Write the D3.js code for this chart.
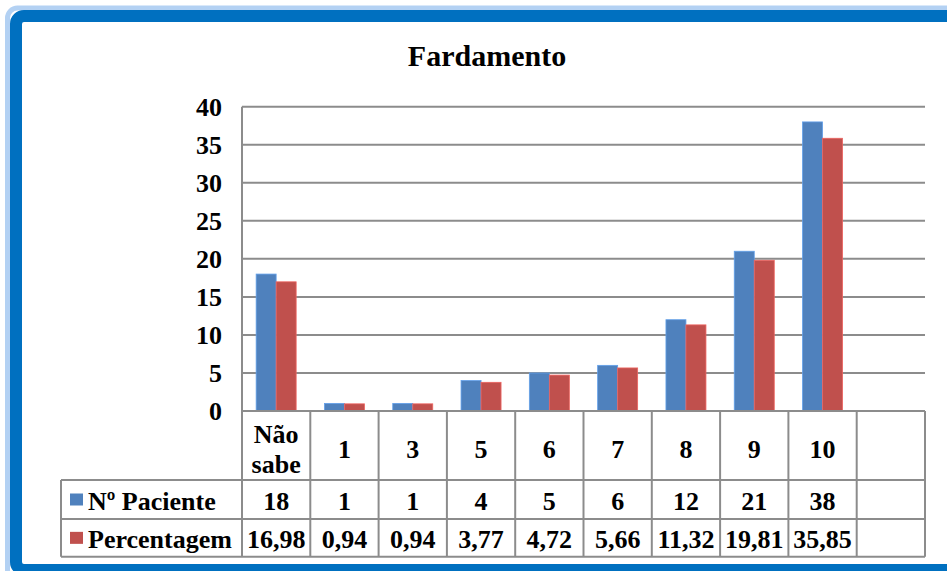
<!DOCTYPE html>
<html>
<head>
<meta charset="utf-8">
<script src="https://cdn.jsdelivr.net/npm/d3@7"></script>
<style>
  body { margin: 0; background: #fff; }
  svg { display: block; }
  svg text { font-family: 'Liberation Serif', 'Times New Roman', serif; font-weight: 700; }
</style>
</head>
<body>
<svg id="chart" width="947" height="571"></svg>
<script>
// chart data
var categories = ["Não sabe", "1", "3", "5", "6", "7", "8", "9", "10", ""];
var seriesNames = ["Nº Paciente", "Percentagem"];
var pacientes = [18, 1, 1, 4, 5, 6, 12, 21, 38, null];
var percentagem = [16.98, 0.94, 0.94, 3.77, 4.72, 5.66, 11.32, 19.81, 35.85, null];
var pctLabels = ["16,98", "0,94", "0,94", "3,77", "4,72", "5,66", "11,32", "19,81", "35,85", ""];
var yTicks = [0, 5, 10, 15, 20, 25, 30, 35, 40];
var colors = ["#4f81bd", "#c0504d"];

var svg = d3.select("#chart");

// blue frame (right side runs off the picture)
svg.append("rect")
    .attr("x", 7.5).attr("y", 8).attr("width", 1100).attr("height", 580)
    .attr("rx", 10)
    .attr("fill", "none").attr("stroke", "#b3d1f3").attr("stroke-width", 5);
svg.append("rect")
    .attr("x", 16).attr("y", 16).attr("width", 1100).attr("height", 554)
    .attr("rx", 8)
    .attr("fill", "#fff").attr("stroke", "#0070c0").attr("stroke-width", 12);

var plotLeft = 242, plotRight = 925, plotTop = 106.7, base = 411;
var rowCat = [411, 480], rowA = [480, 519], rowB = [519, 556.7];
var tableLeft = 61;
var grid = "#8c8c8c";
var fs = 26;

var x = d3.scaleBand().domain(categories).range([plotLeft, plotRight]);
var y = d3.scaleLinear().domain([0, 40]).range([base, plotTop]);
var bw = x.bandwidth();
var x1 = d3.scaleBand().domain(seriesNames).range([bw / 2 - 20, bw / 2 + 20]);

// title
svg.append("text")
    .attr("x", 487).attr("y", 66)
    .attr("text-anchor", "middle")
    .attr("font-size", 30)
    .text("Fardamento");

// gridlines
svg.append("g").selectAll("line")
    .data(yTicks.filter(function(d) { return d > 0; }))
    .enter().append("line")
    .attr("x1", plotLeft).attr("x2", plotRight)
    .attr("y1", function(d) { return y(d); })
    .attr("y2", function(d) { return y(d); })
    .attr("stroke", grid).attr("stroke-width", 2);

// y labels
svg.append("g").selectAll("text")
    .data(yTicks)
    .enter().append("text")
    .attr("x", 222)
    .attr("y", function(d) { return y(d) + 9; })
    .attr("text-anchor", "end")
    .attr("font-size", fs)
    .text(function(d) { return d; });

// bars
var series = [pacientes, percentagem];
series.forEach(function(vals, s) {
    svg.append("g").selectAll("rect")
        .data(categories.map(function(c, i) { return {cat: c, v: vals[i]}; })
            .filter(function(d) { return d.v != null; }))
        .enter().append("rect")
        .attr("x", function(d) { return x(d.cat) + x1(seriesNames[s]); })
        .attr("width", x1.bandwidth())
        .attr("y", function(d) { return y(d.v); })
        .attr("height", function(d) { return base - y(d.v); })
        .attr("fill", colors[s])
        .attr("stroke", d3.color(colors[s]).brighter(0.6))
        .attr("stroke-width", 0.8);
});

// data table lines
var tg = svg.append("g").attr("stroke", grid).attr("stroke-width", 2);
tg.append("line").attr("x1", plotLeft).attr("x2", plotRight).attr("y1", base).attr("y2", base);
[rowA[0], rowB[0], rowB[1]].forEach(function(yy) {
    tg.append("line").attr("x1", tableLeft).attr("x2", plotRight).attr("y1", yy).attr("y2", yy);
});
tg.append("line").attr("x1", tableLeft).attr("x2", tableLeft).attr("y1", rowA[0]).attr("y2", rowB[1]);
tg.append("line").attr("x1", plotLeft).attr("x2", plotLeft).attr("y1", plotTop).attr("y2", rowB[1]);
categories.forEach(function(c) {
    var xx = x(c) + bw;
    tg.append("line").attr("x1", xx).attr("x2", xx).attr("y1", base).attr("y2", rowB[1]);
});

// category labels
var catG = svg.append("g").attr("font-size", fs).attr("text-anchor", "middle");
categories.forEach(function(c) {
    var cx = x(c) + bw / 2;
    var words = c.split(" ");
    var cy = (rowCat[0] + rowCat[1]) / 2;
    words.forEach(function(w, i) {
        catG.append("text")
            .attr("x", cx)
            .attr("y", cy + 12 + (i - (words.length - 1) / 2) * 30)
            .text(w);
    });
});

// value rows
var rows = [
    {name: seriesNames[0], range: rowA, labels: pacientes.map(function(v) { return v == null ? "" : v; })},
    {name: seriesNames[1], range: rowB, labels: pctLabels}
];
rows.forEach(function(r, s) {
    var cy = (r.range[0] + r.range[1]) / 2;
    svg.append("rect")
        .attr("x", 70).attr("y", cy - 6).attr("width", 13).attr("height", 12)
        .attr("fill", colors[s]);
    svg.append("text")
        .attr("x", 88).attr("y", cy + 10)
        .attr("font-size", fs)
        .text(r.name);
    svg.append("g").selectAll("text")
        .data(r.labels)
        .enter().append("text")
        .attr("x", function(d, i) { return x(categories[i]) + bw / 2; })
        .attr("y", cy + 10)
        .attr("text-anchor", "middle")
        .attr("font-size", fs)
        .text(function(d) { return d; });
});
</script>
</body>
</html>
